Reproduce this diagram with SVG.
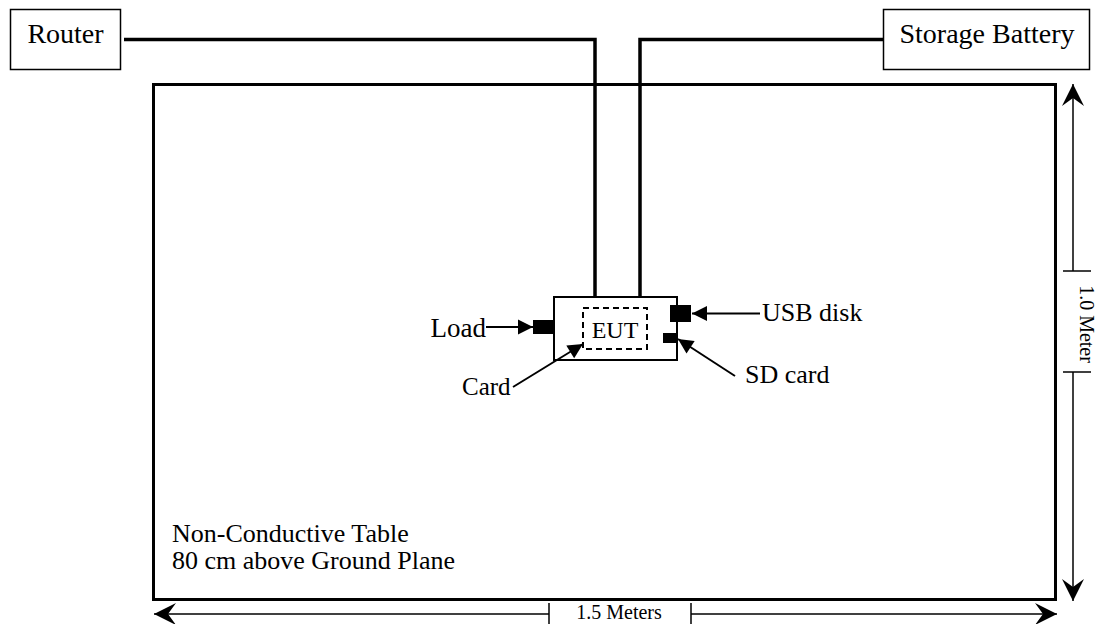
<svg xmlns="http://www.w3.org/2000/svg" width="1096" height="624" viewBox="0 0 1096 624">
<style>
text{font-family:"Liberation Serif","Times New Roman",serif;fill:#000}
.box{fill:#fff;stroke:#000;stroke-width:1.5}
.wire{fill:none;stroke:#000;stroke-width:3.5}
.ptr{fill:none;stroke:#000;stroke-width:2}
.dim{fill:none;stroke:#000;stroke-width:1.5}
.blk{fill:#000}
</style>
<defs>
<marker id="tri" markerUnits="userSpaceOnUse" viewBox="-16 -8 17 16" refX="0" refY="0" markerWidth="17" markerHeight="16" orient="auto">
<path d="M0,0 L-15,-7.5 L-15,7.5 Z" fill="#000"/>
</marker>
<marker id="barb" markerUnits="userSpaceOnUse" viewBox="-24 -12 25 24" refX="0" refY="0" markerWidth="25" markerHeight="24" orient="auto">
<path d="M0,0 L-22,-11 L-14,0 L-22,11 Z" fill="#000"/>
</marker>
</defs>

<g id="table">
<rect x="153.5" y="84.5" width="902" height="515" fill="#fff" stroke="#000" stroke-width="3"/>
<text x="172" y="542" font-size="26">Non-Conductive Table</text>
<text x="172" y="569" font-size="26">80 cm above Ground Plane</text>
</g>

<g id="router">
<rect class="box" x="10.5" y="9.5" width="110" height="60"/>
<text x="65.5" y="43" font-size="28" text-anchor="middle">Router</text>
</g>

<g id="battery">
<rect class="box" x="883.5" y="9.5" width="206" height="60"/>
<text x="987" y="43" font-size="28" text-anchor="middle">Storage Battery</text>
</g>

<g id="eut">
<rect x="554" y="297" width="123" height="63" fill="#fff" stroke="#000" stroke-width="2"/>
<rect x="583" y="308" width="64" height="41" fill="none" stroke="#000" stroke-width="2" stroke-dasharray="6,4"/>
<text x="615" y="338" font-size="24" text-anchor="middle">EUT</text>
</g>

<g id="load">
<rect class="blk" x="533" y="320" width="21" height="14"/>
<text x="486" y="337" font-size="27" text-anchor="end">Load</text>
</g>

<g id="usb">
<rect class="blk" x="670" y="305" width="21" height="17"/>
<text x="762" y="321" font-size="26">USB disk</text>
</g>

<g id="sdcard">
<rect class="blk" x="663" y="333" width="14" height="10"/>
<text x="745" y="383" font-size="26">SD card</text>
</g>

<g id="card">
<text x="462" y="395" font-size="25">Card</text>
</g>

<g id="connectors">
<polyline class="wire" points="124,39.5 595,39.5 595,297"/>
<polyline class="wire" points="883,39.5 640,39.5 640,297"/>
<line class="ptr" x1="486" y1="327" x2="533" y2="327" marker-end="url(#tri)"/>
<line class="ptr" x1="760" y1="313.5" x2="692" y2="313.5" marker-end="url(#tri)"/>
<line class="ptr" x1="735" y1="376" x2="678" y2="339" marker-end="url(#tri)"/>
<line class="ptr" x1="513" y1="387" x2="583" y2="344" marker-end="url(#tri)"/>
</g>

<g id="dim-height">
<line class="dim" x1="1073" y1="271" x2="1073" y2="84" marker-end="url(#barb)"/>
<line class="dim" x1="1063" y1="271" x2="1091" y2="271"/>
<line class="dim" x1="1063" y1="372" x2="1091" y2="372"/>
<line class="dim" x1="1073" y1="372" x2="1073" y2="601" marker-end="url(#barb)"/>
<text transform="translate(1080,324) rotate(90)" font-size="20" text-anchor="middle">1.0 Meter</text>
</g>

<g id="dim-width">
<line class="dim" x1="549" y1="614" x2="154" y2="614" marker-end="url(#barb)"/>
<line class="dim" x1="549" y1="603" x2="549" y2="624"/>
<line class="dim" x1="691" y1="603" x2="691" y2="624"/>
<line class="dim" x1="691" y1="614" x2="1057" y2="614" marker-end="url(#barb)"/>
<text x="619" y="619" font-size="20" text-anchor="middle">1.5 Meters</text>
</g>
</svg>
